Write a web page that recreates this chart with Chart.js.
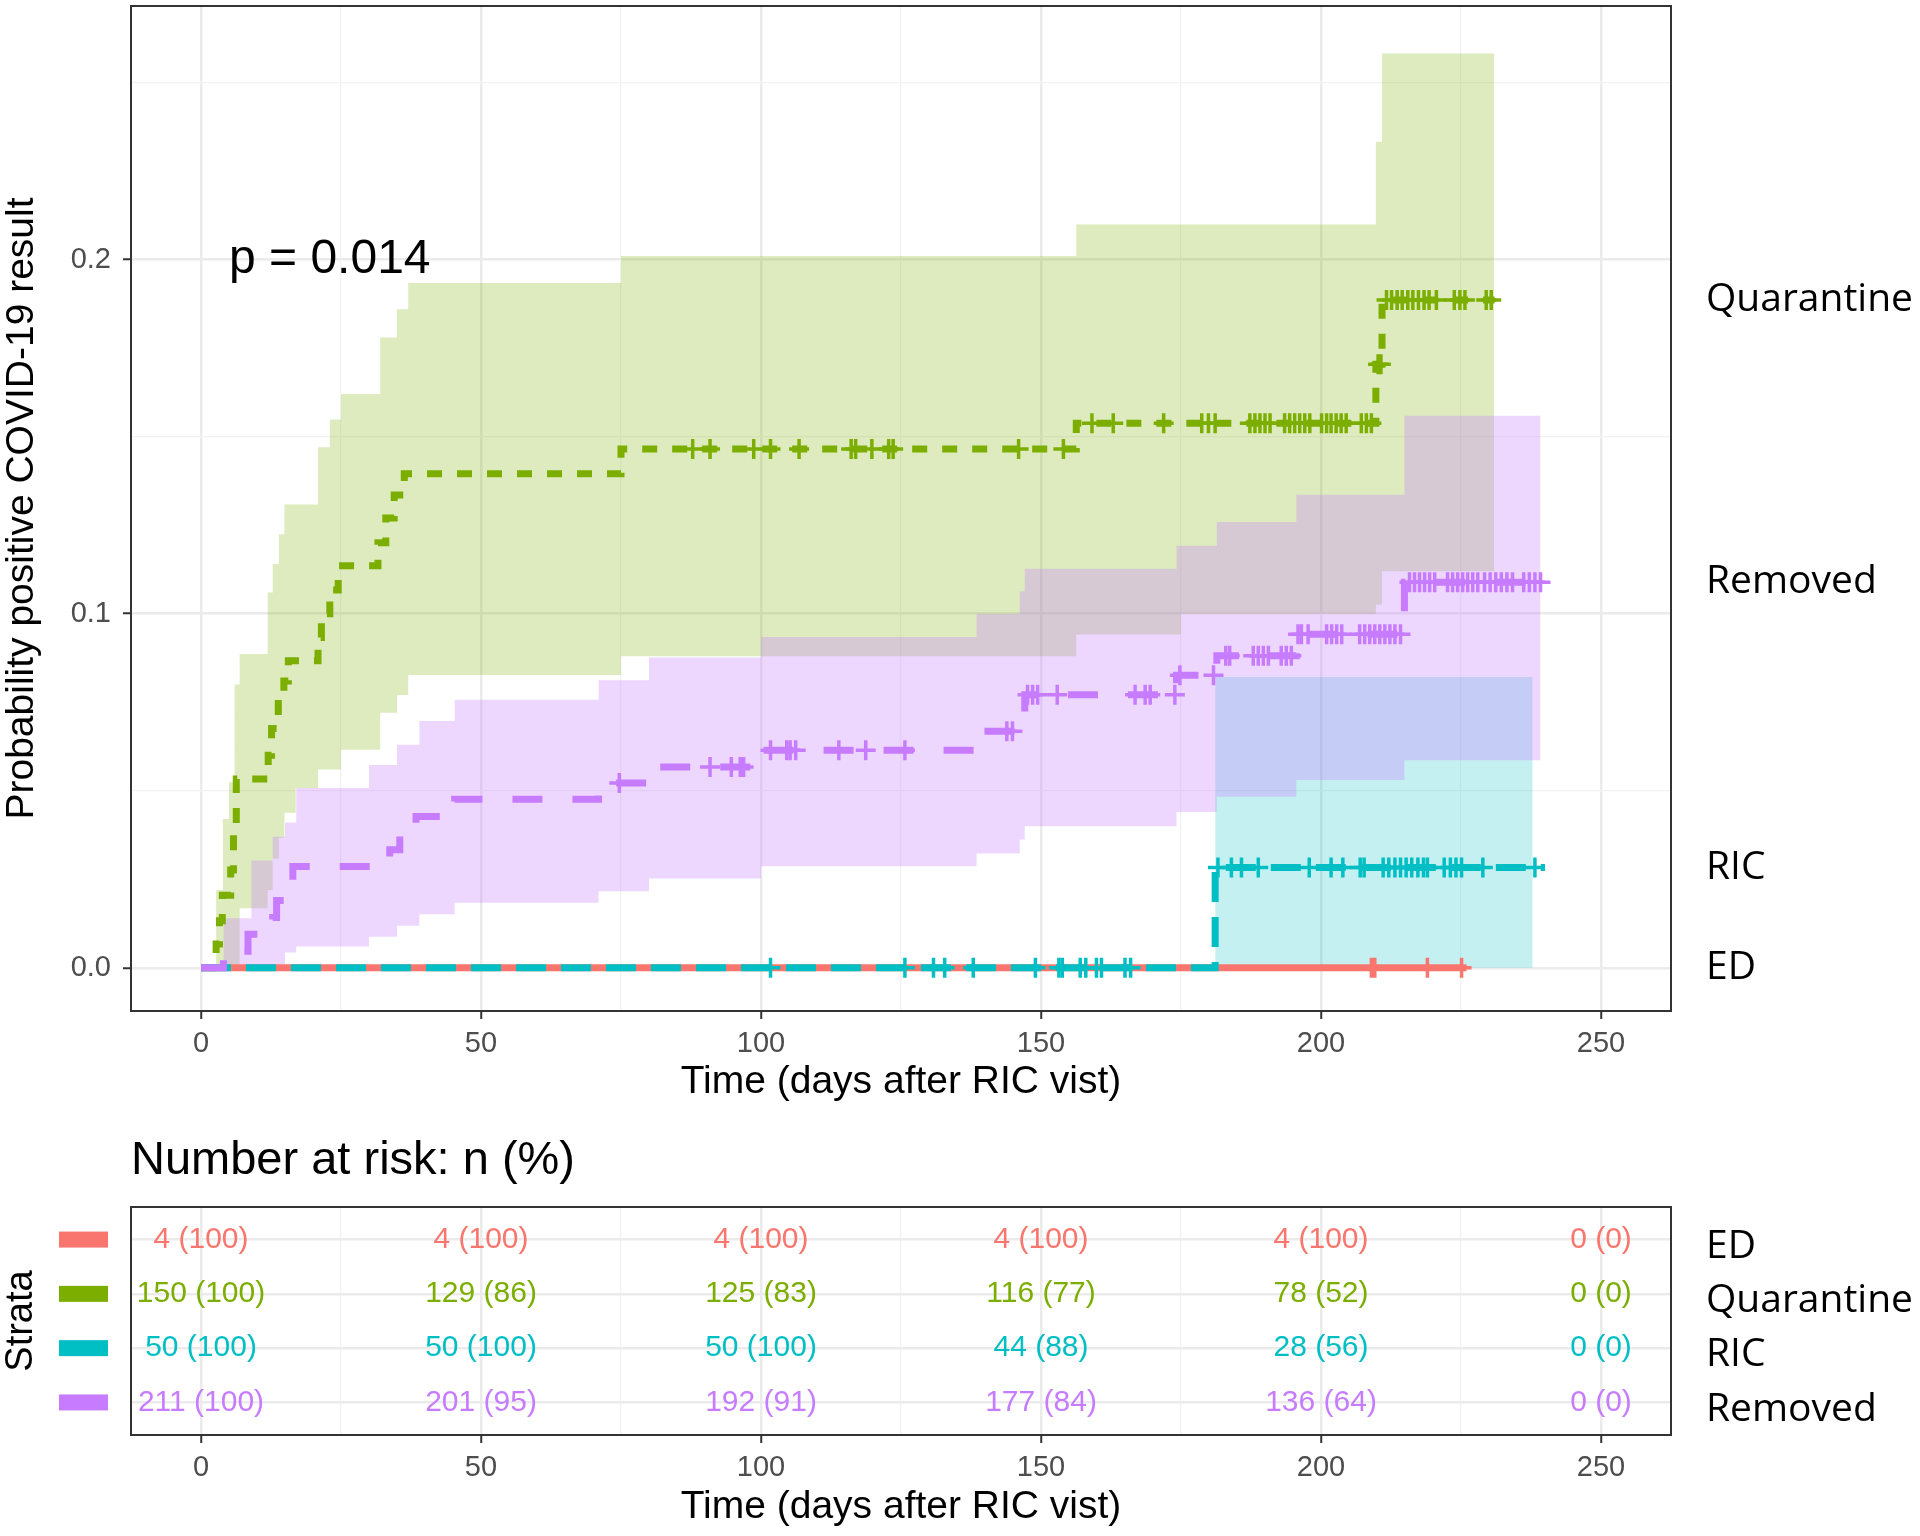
<!DOCTYPE html>
<html lang="en">
<head>
<meta charset="UTF-8">
<title>Probability positive COVID-19 result</title>
<script src="https://cdn.jsdelivr.net/npm/chart.js@4"></script>
<style>
  html, body { margin: 0; padding: 0; background: #fff; }
  body { width: 1920px; height: 1536px; position: relative; overflow: hidden; }
  canvas { position: absolute; left: 0; }
  #main { top: 0; }
  #risk { top: 1110px; }
</style>
</head>
<body>
<canvas id="main" width="1920" height="1110"></canvas>
<canvas id="risk" width="1920" height="426"></canvas>
<script>
// --- strata
const strata = ['ED', 'Quarantine', 'RIC', 'Removed'];

// --- cumulative incidence curves (step functions)
const edTimes = [0, 226];
const edVals = [0, 0];

const quarTimes = [0, 2.7, 3.3, 3.8, 5.3, 5.8, 6.3, 12.0, 12.6, 13.8, 14.8, 15.6, 20.9, 21.5, 23.0, 24.5, 31.6, 33.0, 34.5, 36.3, 75.0, 156.3, 209.8, 210.9, 231];
const quarVals = [0, 0.0067, 0.0133, 0.0205, 0.0276, 0.040, 0.0533, 0.060, 0.0676, 0.0746, 0.081, 0.0867, 0.0933, 0.100, 0.1067, 0.1135, 0.120, 0.127, 0.1335, 0.1395, 0.1465, 0.1538, 0.1704, 0.1886, 0.1886];

const ricTimes = [0, 181.1, 240];
const ricVals = [0, 0.0283, 0.0283];

const remTimes = [0, 4.0, 8.4, 12.8, 13.5, 15.8, 16.4, 33.7, 35.5, 38.4, 45.3, 71.0, 80.0, 100.0, 138.5, 146.2, 147.1, 174.2, 181.4, 195.6, 214.9, 240.5];
const remVals = [0, 0.0047, 0.0095, 0.0142, 0.019, 0.0237, 0.0286, 0.0333, 0.038, 0.0427, 0.0476, 0.0522, 0.0567, 0.0614, 0.0668, 0.0719, 0.0771, 0.0826, 0.0881, 0.0942, 0.1089, 0.1089];

// --- confidence bands
const quarCiTimes = [2.7, 3.9, 5.0, 6.0, 6.9, 9.0, 11.9, 12.8, 13.9, 14.9, 16.9, 20.9, 23.0, 25.0, 32.0, 35.0, 37.0, 75.0, 156.3, 175.0, 209.8, 210.9, 230.9];
const quarCiLow = [0, 0, 0, 0, 0.0168, 0.0168, 0.022, 0.0308, 0.0367, 0.0438, 0.0508, 0.056, 0.056, 0.0616, 0.072, 0.077, 0.0827, 0.088, 0.0941, 0.100, 0.1025, 0.112, 0.112];
const quarCiHigh = [0.022, 0.042, 0.0524, 0.080, 0.0886, 0.0886, 0.106, 0.114, 0.1224, 0.1308, 0.1308, 0.147, 0.1548, 0.162, 0.178, 0.186, 0.1934, 0.201, 0.2099, 0.2099, 0.2333, 0.2582, 0.2582];

const ricCiTimes = [181.1, 237.8];
const ricCiLow = [0, 0];
const ricCiHigh = [0.0821, 0.0821];

const remCiTimes = [4.0, 6.9, 9.0, 12.8, 15.0, 17.0, 30.0, 35.0, 39.0, 45.3, 71.0, 80.0, 100.0, 138.5, 146.2, 147.1, 174.2, 181.4, 195.6, 214.9, 239.2];
const remCiLow = [0, 0, 0, 0, 0.0043, 0.006, 0.0088, 0.0119, 0.0151, 0.0184, 0.0216, 0.0252, 0.0287, 0.0323, 0.0362, 0.040, 0.044, 0.0483, 0.053, 0.0586, 0.0586];
const remCiHigh = [0.014, 0.014, 0.0303, 0.037, 0.041, 0.0508, 0.0573, 0.063, 0.0697, 0.0757, 0.0812, 0.0876, 0.0934, 0.100, 0.1063, 0.1127, 0.1192, 0.1259, 0.1336, 0.1559, 0.1559];

// --- censoring times
const edCensor = [209.0, 209.6, 219.0, 225.1];
const quarCensor = [87.8, 90.9, 98.7, 101.7, 106.8, 116.1, 116.9, 119.8, 122.8, 123.6, 146.0, 154.0, 159.1, 162.9, 171.9, 178.7, 179.9, 181.1,
  187.3, 188.2, 189.1, 190.0, 190.9, 193.5, 194.4, 195.3, 196.2, 197.1, 198.0, 200.1, 201.0, 201.8, 202.7, 203.6, 204.5, 207.2, 208.1, 209.0,
  210.2, 210.7, 211.7, 212.6, 213.6, 214.5, 215.5, 216.4, 217.4, 218.4, 219.3, 220.6, 223.8, 224.8, 225.7, 229.5, 230.4];
const ricCensor = [101.7, 125.7, 130.8, 132.8, 137.9, 149.0, 153.2, 153.8, 157.0, 158.0, 159.9, 160.8, 165.0, 166.0,
  181.6, 184.0, 185.8, 188.8, 197.9, 201.8, 203.9, 207.0, 207.7, 211.1, 212.1, 213.2, 214.2, 215.2, 216.2, 217.3, 218.3, 219.0,
  222.0, 223.1, 224.1, 225.1, 228.9, 238.2];
const remCensor = [74.7, 90.9, 94.7, 96.3, 96.9, 101.7, 104.6, 105.2, 106.2, 113.9, 118.7, 125.7, 143.9, 144.9, 147.6, 148.5, 149.4, 152.9,
  166.8, 168.6, 169.5, 173.9, 174.8, 180.8, 183.0, 183.7, 187.9, 188.8, 189.7, 190.6, 192.9, 193.8, 194.7, 195.9, 196.5, 197.7,
  201.0, 201.9, 202.8, 203.7, 206.9, 207.8, 208.7, 209.6, 210.5, 211.4, 212.3, 213.2, 214.2,
  215.8, 216.7, 217.6, 218.5, 219.4, 220.3, 222.6, 223.5, 224.4, 225.3, 226.2, 227.1, 228.0, 229.2, 230.2, 231.2, 232.2, 233.2, 234.2, 236.2, 237.2, 238.2, 239.2];

// --- number at risk table
const riskTimes = [0, 50, 100, 150, 200, 250];
const riskED = [4, 4, 4, 4, 4, 0];
const riskEDPct = [100, 100, 100, 100, 100, 0];
const riskQuar = [150, 129, 125, 116, 78, 0];
const riskQuarPct = [100, 86, 83, 77, 52, 0];
const riskRIC = [50, 50, 50, 44, 28, 0];
const riskRICPct = [100, 100, 100, 88, 56, 0];
const riskRem = [211, 201, 192, 177, 136, 0];
const riskRemPct = [100, 95, 91, 84, 64, 0];

// --- axes
const xGrid = [0, 25, 50, 75, 100, 125, 150, 175, 200, 225, 250];
const xLabels = [0, 50, 100, 150, 200, 250];
const yGrid = [0, 0.05, 0.1, 0.15, 0.2, 0.25];
const yLabels = [0, 0.1, 0.2];
const pValueText = 'p = 0.014';
const pValuePos = [5, 0.2];

// styles
const colors = ['#F8766D', '#7CAE00', '#00BFC4', '#C77CFF'];
const fills = ['rgba(248,118,109,0.25)', 'rgba(124,174,0,0.25)', 'rgba(0,191,196,0.23)', 'rgba(199,124,255,0.3)'];
const dashes = [[], [15, 15], [30, 15], [30, 30]];
const SANS = '"Liberation Sans", Arial, sans-serif';
const LABEL_FONT = '"Open Sans", "Noto Sans", sans-serif';

const curveTimes = [edTimes, quarTimes, ricTimes, remTimes];
const curveVals = [edVals, quarVals, ricVals, remVals];
const censorTimes = [edCensor, quarCensor, ricCensor, remCensor];
const bands = [
  null,
  [quarCiTimes, quarCiLow, quarCiHigh],
  [ricCiTimes, ricCiLow, ricCiHigh],
  [remCiTimes, remCiLow, remCiHigh]
];
const riskN = [riskED, riskQuar, riskRIC, riskRem];
const riskPct = [riskEDPct, riskQuarPct, riskRICPct, riskRemPct];

function toPoints(xs, ys) {
  return xs.map((x, i) => ({ x: x, y: ys[i] }));
}
function stepValue(xs, ys, t) {
  let v = ys[0];
  for (let i = 0; i < xs.length; i++) {
    if (xs[i] <= t) v = ys[i];
  }
  return v;
}
const near = (list, v) => list.some(m => Math.abs(m - v) < 1e-9);

// stop Chart.js from adding room for the outer tick labels
function noLabelPadding(s) {
  s.paddingTop = 0; s.paddingBottom = 0; s.paddingLeft = 0; s.paddingRight = 0;
}

Chart.defaults.font.family = SANS;

// build main datasets
const datasets = [];
bands.forEach((b, g) => {
  if (!b) return;
  const upperIndex = datasets.length;
  datasets.push({
    data: toPoints(b[0], b[2]), stepped: true, borderWidth: 0, borderColor: 'rgba(0,0,0,0)',
    pointRadius: 0, fill: false, order: 30 - g
  });
  datasets.push({
    data: toPoints(b[0], b[1]), stepped: true, borderWidth: 0, borderColor: 'rgba(0,0,0,0)',
    pointRadius: 0, backgroundColor: fills[g], fill: { target: upperIndex }, order: 30 - g
  });
});
strata.forEach((name, g) => {
  datasets.push({
    label: name, data: toPoints(curveTimes[g], curveVals[g]), stepped: true,
    borderColor: colors[g], borderWidth: 7, borderDash: dashes[g], borderCapStyle: 'butt',
    pointRadius: 0, fill: false, order: 10 - g
  });
});
strata.forEach((name, g) => {
  datasets.push({
    label: name + ' censored',
    data: censorTimes[g].map(t => ({ x: t, y: stepValue(curveTimes[g], curveVals[g], t) })),
    showLine: false, pointStyle: 'cross', pointRadius: 10, pointBorderWidth: 3.5,
    pointBorderColor: colors[g], borderColor: colors[g], order: 5 - g
  });
});

function xAxis(height) {
  return {
    type: 'linear', min: -12.5, max: 262.5,
    afterBuildTicks: s => { s.ticks = xGrid.map(v => ({ value: v })); },
    afterFit: s => { s.height = height; noLabelPadding(s); },
    border: { display: false },
    grid: {
      color: c => near(xLabels, c.tick.value) ? '#ebebeb' : '#f2f2f2',
      lineWidth: c => near(xLabels, c.tick.value) ? 2.5 : 1.3,
      tickColor: c => near(xLabels, c.tick.value) ? '#333333' : 'rgba(0,0,0,0)',
      tickLength: 8, tickWidth: 2
    },
    ticks: {
      autoSkip: false, maxRotation: 0, padding: 8, color: '#4d4d4d', font: { size: 29 },
      callback: v => near(xLabels, v) ? String(v) : ''
    }
  };
}

const mainDecor = {
  id: 'mainDecor',
  afterDraw(chart) {
    const { ctx, chartArea: a, scales } = chart;
    ctx.save();
    ctx.strokeStyle = '#333333';
    ctx.lineWidth = 2;
    ctx.strokeRect(a.left, a.top, a.right - a.left, a.bottom - a.top);

    ctx.fillStyle = '#000';
    ctx.textAlign = 'left';
    ctx.textBaseline = 'middle';
    ctx.font = '48px ' + SANS;
    ctx.fillText(pValueText, scales.x.getPixelForValue(pValuePos[0]), scales.y.getPixelForValue(pValuePos[1]));

    ctx.font = '39px ' + LABEL_FONT;
    strata.forEach((name, g) => {
      const ys = curveVals[g];
      ctx.fillText(name, a.right + 35, scales.y.getPixelForValue(ys[ys.length - 1]));
    });

    ctx.font = '39px ' + SANS;
    ctx.textAlign = 'center';
    ctx.fillText('Time (days after RIC vist)', (a.left + a.right) / 2, 1082);
    ctx.translate(22, (a.top + a.bottom) / 2);
    ctx.rotate(-Math.PI / 2);
    ctx.fillText('Probability positive COVID-19 result', 0, 0);
    ctx.restore();
  }
};

new Chart(document.getElementById('main'), {
  type: 'line',
  data: { datasets: datasets },
  options: {
    responsive: false, animation: false, devicePixelRatio: 1,
    layout: { autoPadding: false, padding: { top: 6, right: 249, left: 0, bottom: 0 } },
    plugins: { legend: { display: false }, tooltip: { enabled: false } },
    scales: {
      x: xAxis(99),
      y: {
        type: 'linear', min: -0.0122, max: 0.2716,
        afterBuildTicks: s => { s.ticks = yGrid.map(v => ({ value: v })); },
        afterFit: s => { s.width = 131; noLabelPadding(s); },
        border: { display: false },
        grid: {
          color: c => near(yLabels, c.tick.value) ? '#ebebeb' : '#f2f2f2',
          lineWidth: c => near(yLabels, c.tick.value) ? 2.5 : 1.3,
          tickColor: c => near(yLabels, c.tick.value) ? '#333333' : 'rgba(0,0,0,0)',
          tickLength: 8, tickWidth: 2
        },
        ticks: {
          autoSkip: false, padding: 12, color: '#4d4d4d', font: { size: 29 },
          callback: v => near(yLabels, v) ? v.toFixed(1) : ''
        }
      }
    }
  },
  plugins: [mainDecor]
});

// --- risk table
const riskDatasets = strata.map((name, g) => ({
  label: name,
  data: riskTimes.map(t => ({ x: t, y: strata.length - g })),
  showLine: false, pointRadius: 0
}));

const riskDecor = {
  id: 'riskDecor',
  afterDraw(chart) {
    const { ctx, chartArea: a, scales } = chart;
    ctx.save();
    ctx.textBaseline = 'middle';
    ctx.textAlign = 'center';
    ctx.font = '30px ' + SANS;
    strata.forEach((name, g) => {
      ctx.fillStyle = colors[g];
      chart.getDatasetMeta(g).data.forEach((pt, i) => {
        ctx.fillText(riskN[g][i] + ' (' + riskPct[g][i] + ')', pt.x, pt.y);
      });
    });

    ctx.strokeStyle = '#333333';
    ctx.lineWidth = 2;
    ctx.strokeRect(a.left, a.top, a.right - a.left, a.bottom - a.top);

    strata.forEach((name, g) => {
      const y = scales.y.getPixelForValue(strata.length - g);
      ctx.fillStyle = colors[g];
      ctx.fillRect(59, y - 8, 49, 16);
      ctx.fillStyle = '#000';
      ctx.textAlign = 'left';
      ctx.font = '39px ' + LABEL_FONT;
      ctx.fillText(name, a.right + 35, y + 7);
    });

    ctx.fillStyle = '#000';
    ctx.textAlign = 'left';
    ctx.font = '47px ' + SANS;
    ctx.fillText('Number at risk: n (%)', a.left, 51);

    ctx.textAlign = 'center';
    ctx.font = '39px ' + SANS;
    ctx.fillText('Time (days after RIC vist)', (a.left + a.right) / 2, 397);
    ctx.translate(22, (a.top + a.bottom) / 2);
    ctx.rotate(-Math.PI / 2);
    ctx.font = '38px ' + SANS;
    ctx.fillText('Strata', 0, 0);
    ctx.restore();
  }
};

new Chart(document.getElementById('risk'), {
  type: 'line',
  data: { datasets: riskDatasets },
  options: {
    responsive: false, animation: false, devicePixelRatio: 1,
    layout: { autoPadding: false, padding: { top: 97, right: 249, left: 0, bottom: 0 } },
    plugins: { legend: { display: false }, tooltip: { enabled: false } },
    scales: {
      x: xAxis(101),
      y: {
        type: 'linear', min: 0.4, max: 4.6,
        afterBuildTicks: s => { s.ticks = [1, 2, 3, 4].map(v => ({ value: v })); },
        afterFit: s => { s.width = 131; noLabelPadding(s); },
        border: { display: false },
        grid: { color: '#ebebeb', lineWidth: 2.5, drawTicks: false },
        ticks: { display: false }
      }
    }
  },
  plugins: [riskDecor]
});
</script>
</body>
</html>
